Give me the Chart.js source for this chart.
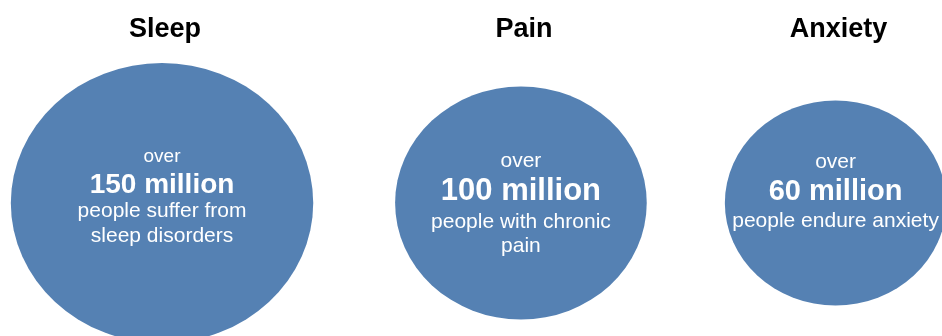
<!DOCTYPE html>
<html>
<head>
<meta charset="utf-8">
<script src="https://cdn.jsdelivr.net/npm/chart.js@4/dist/chart.umd.min.js"></script>
<style>
  html, body { margin: 0; padding: 0; background: #ffffff; }
  #wrap { width: 942px; height: 336px; }
</style>
</head>
<body>
<div id="wrap"><canvas id="c" width="942" height="336"></canvas></div>
<script>
// Headline figures, one bubble per condition
const categories = ['Sleep', 'Pain', 'Anxiety'];
const millions = [150, 100, 60];
const leadWord = ['over', 'over', 'over'];
const unitWord = 'million';
const captionLines = [
  ['people suffer from', 'sleep disorders'],
  ['people with chronic', 'pain'],
  ['people endure anxiety']
];

// Layout: where each bubble sits across the row (fraction of width) and its size
const bubbleLayout = {
  centre: [0.172, 0.553, 0.887],
  radius: [140, 116.5, 102.5],
  aspect: 1.08
};

// Text styling per bubble: font sizes and baseline offsets from the bubble centre
const textStyle = [
  { lead: 19, big: 28, body: 21, lines: [-41, -10, 14, 39] },
  { lead: 21, big: 31, body: 21, lines: [-36, -3, 25, 49] },
  { lead: 21, big: 29, body: 21, lines: [-35, -3, 24, 48] }
];

const FILL = '#5581b3';
const FONT = '"Liberation Sans", Arial, Helvetica, sans-serif';

const bubbles = categories.map((c, i) => ({
  x: bubbleLayout.centre[i],
  y: 0,
  size: bubbleLayout.radius[i],
  value: millions[i]
}));

// Draws each point as a slightly wide ellipse plus its labels
const ellipseBubbles = {
  id: 'ellipseBubbles',
  beforeDatasetDraw(chart, args) {
    const ctx = chart.ctx;
    const meta = args.meta;
    const pts = chart.data.datasets[args.index].data;
    ctx.save();
    ctx.fillStyle = FILL;
    meta.data.forEach((el, i) => {
      const r = pts[i].size;
      ctx.beginPath();
      ctx.ellipse(el.x, el.y, r * bubbleLayout.aspect, r, 0, 0, Math.PI * 2);
      ctx.fill();
    });
    ctx.restore();
    return false;
  },
  afterDatasetsDraw(chart) {
    const ctx = chart.ctx;
    const meta = chart.getDatasetMeta(0);
    ctx.save();
    ctx.textAlign = 'center';
    ctx.textBaseline = 'alphabetic';
    meta.data.forEach((el, i) => {
      const st = textStyle[i];
      // category heading above the bubble
      ctx.fillStyle = '#000000';
      ctx.font = 'bold 27px ' + FONT;
      ctx.fillText(categories[i], el.x + 3, 37);

      ctx.fillStyle = '#ffffff';
      ctx.font = st.lead + 'px ' + FONT;
      ctx.fillText(leadWord[i], el.x, el.y + st.lines[0]);
      ctx.font = 'bold ' + st.big + 'px ' + FONT;
      ctx.fillText(millions[i] + ' ' + unitWord, el.x, el.y + st.lines[1]);
      ctx.font = st.body + 'px ' + FONT;
      captionLines[i].forEach((line, k) => {
        ctx.fillText(line, el.x, el.y + st.lines[2 + k]);
      });
    });
    ctx.restore();
  }
};

new Chart(document.getElementById('c'), {
  type: 'scatter',
  data: {
    datasets: [{
      label: 'People affected (millions)',
      data: bubbles,
      backgroundColor: FILL,
      pointRadius: 0,
      borderWidth: 0
    }]
  },
  options: {
    responsive: false,
    devicePixelRatio: 1,
    animation: false,
    events: [],
    layout: { padding: { top: 70, left: 0, right: 0, bottom: 0 } },
    scales: {
      x: { type: 'linear', min: 0, max: 1, display: false },
      y: { type: 'linear', min: -1, max: 1, display: false }
    },
    plugins: {
      legend: { display: false },
      tooltip: { enabled: false },
      title: { display: false }
    }
  },
  plugins: [ellipseBubbles]
});
</script>
</body>
</html>
